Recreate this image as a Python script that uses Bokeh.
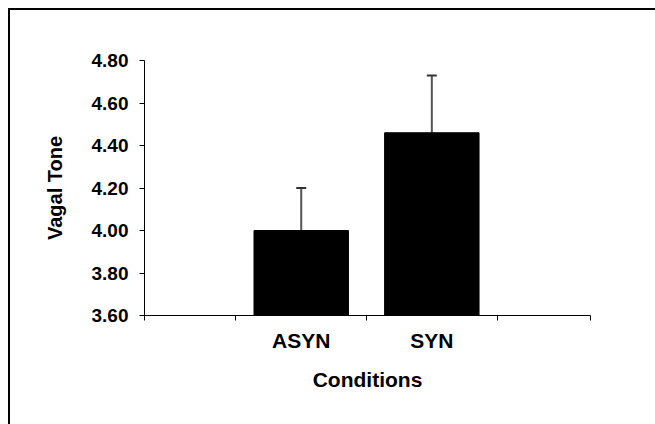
from bokeh.plotting import figure
from bokeh.models import FixedTicker, Whisker, ColumnDataSource, Range1d, TeeHead, NumeralTickFormatter
from bokeh.embed import file_html
from bokeh.resources import INLINE

categories = ["ASYN", "SYN"]
values = [4.00, 4.46]
errors = [0.20, 0.27]
positions = [1, 2]
y_ticks = [3.6, 3.8, 4.0, 4.2, 4.4, 4.6, 4.8]
x_boundaries = [-0.2, 0.5, 1.5, 2.5, 3.215]

upper = [v + e for v, e in zip(values, errors)]
src = ColumnDataSource(dict(x=positions, top=values, upper=upper, cat=categories))

p = figure(width=647, height=416, output_backend="svg", toolbar_location=None,
           x_range=Range1d(x_boundaries[0], x_boundaries[-1]),
           y_range=Range1d(3.6, 4.8),
           min_border_left=134, min_border_right=67, min_border_top=50, min_border_bottom=111)
p.styles = {"border-left": "2px solid black", "border-top": "2px solid black",
            "margin-left": "8px", "margin-top": "8px"}
p.outline_line_color = None
p.xgrid.grid_line_color = None
p.ygrid.grid_line_color = None
p.background_fill_color = "white"

p.vbar(x="x", top="top", bottom=3.6, width=0.723, source=src, fill_color="black", line_color="black")

w = Whisker(source=src, base="x", lower="top", upper="upper", line_color="#555555", line_width=2,
            upper_head=TeeHead(size=10, line_color="#333333", line_width=2), lower_head=None)
p.add_layout(w)

# y axis
p.yaxis.ticker = FixedTicker(ticks=y_ticks)
p.yaxis.formatter = NumeralTickFormatter(format="0.00")
p.yaxis.minor_tick_line_color = None
p.yaxis.major_tick_out = 5
p.yaxis.major_tick_in = 0
p.yaxis.major_tick_line_color = "black"
p.yaxis.axis_line_color = "black"
p.yaxis.major_label_text_font = "Liberation Sans"
p.yaxis.major_label_text_font_style = "bold"
p.yaxis.major_label_text_font_size = "19px"
p.yaxis.major_label_text_color = "black"
p.yaxis.major_label_standoff = 11
p.yaxis.axis_label = "Vagal Tone"
p.yaxis.axis_label_text_font = "Liberation Sans"
p.yaxis.axis_label_text_font_style = "bold"
p.yaxis.axis_label_text_font_size = "20px"
p.yaxis.axis_label_text_color = "black"
p.yaxis.axis_label_standoff = 23

# x axis
p.xaxis.ticker = FixedTicker(ticks=positions, minor_ticks=x_boundaries)
p.xaxis.major_label_overrides = {pos: c for pos, c in zip(positions, categories)}
p.xaxis.major_tick_line_color = None
p.xaxis.major_tick_out = 0
p.xaxis.major_tick_in = 0
p.xaxis.minor_tick_line_color = "black"
p.xaxis.minor_tick_out = 5
p.xaxis.minor_tick_in = 0
p.xaxis.axis_line_color = "black"
p.xaxis.major_label_text_font = "Liberation Sans"
p.xaxis.major_label_text_font_style = "bold"
p.xaxis.major_label_text_font_size = "21px"
p.xaxis.major_label_text_color = "black"
p.xaxis.major_label_standoff = 8
p.xaxis.axis_label = "Conditions"
p.xaxis.axis_label_text_font = "Liberation Sans"
p.xaxis.axis_label_text_font_style = "bold"
p.xaxis.axis_label_text_font_size = "21px"
p.xaxis.axis_label_text_color = "black"
p.xaxis.axis_label_standoff = 13

open("out.html", "w").write(file_html(p, INLINE))
